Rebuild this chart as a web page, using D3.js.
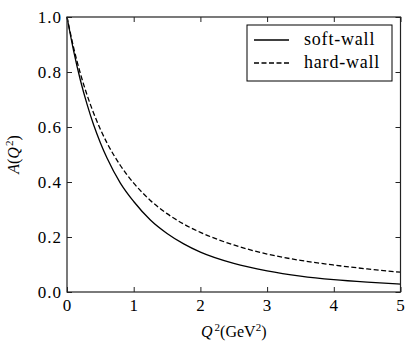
<!DOCTYPE html>
<html>
<head>
<meta charset="utf-8">
<script src="https://cdn.jsdelivr.net/npm/d3@7"></script>
<style>
  body { margin: 0; background: #fff; }
  svg { display: block; }
</style>
</head>
<body>
<svg></svg>
<script>
let width = 415, height = 349;

// Q^2 sample points (GeV^2) and read-off values of A(Q^2)
let q2 = [0, 0.1, 0.2, 0.3, 0.4, 0.5, 0.6, 0.8, 1.0, 1.25, 1.5, 1.75, 2.0, 2.5, 3.0, 3.5, 4.0, 4.5, 5.0];
let softWall = [1, 0.876, 0.771, 0.683, 0.607, 0.543, 0.487, 0.396, 0.329, 0.262, 0.213, 0.175, 0.145, 0.104, 0.077, 0.058, 0.045, 0.036, 0.029];
let hardWall = [1, 0.888, 0.795, 0.717, 0.650, 0.592, 0.542, 0.460, 0.396, 0.333, 0.285, 0.247, 0.217, 0.171, 0.138, 0.115, 0.098, 0.084, 0.072];

let xTicks = [0, 1, 2, 3, 4, 5];
let yTicks = [0, 0.2, 0.4, 0.6, 0.8, 1.0];

let series = [
  { name: "soft-wall", values: softWall, dash: null },
  { name: "hard-wall", values: hardWall, dash: "5,2.5" }
];

let margin = { left: 67, top: 17, right: 14.5, bottom: 57 };

let svg = d3.select("svg")
    .attr("width", width)
    .attr("height", height);

let x = d3.scaleLinear().domain([0, 5]).range([margin.left, width - margin.right]);
let y = d3.scaleLinear().domain([0, 1]).range([height - margin.bottom, margin.top]);

let font = "Liberation Serif";

// curves
let line = d3.line()
    .x((d, i) => x(q2[i]))
    .y(d => y(d))
    .curve(d3.curveMonotoneX);

svg.append("g")
  .selectAll("path")
  .data(series)
  .enter()
  .append("path")
    .attr("d", d => line(d.values))
    .attr("fill", "none")
    .attr("stroke", "black")
    .attr("stroke-width", 1.3)
    .attr("stroke-dasharray", d => d.dash);

// axes: ticks point inward, on all four sides
let tickLen = 5;
let axBottom = d3.axisBottom(x).tickValues(xTicks).tickSizeInner(-tickLen).tickSizeOuter(0).tickPadding(7).tickFormat(d3.format("d"));
let axTop = d3.axisTop(x).tickValues(xTicks).tickSizeInner(-tickLen).tickSizeOuter(0).tickFormat("");
let axLeft = d3.axisLeft(y).tickValues(yTicks).tickSizeInner(-tickLen).tickSizeOuter(0).tickPadding(5).tickFormat(d3.format(".1f"));
let axRight = d3.axisRight(y).tickValues(yTicks).tickSizeInner(-tickLen).tickSizeOuter(0).tickFormat("");

function styleAxis(g) {
  g.select(".domain").remove();
  g.selectAll("line").attr("stroke", "#222").attr("stroke-width", 1);
  g.selectAll("text").style("font-family", font).attr("font-size", 17)
    .attr("letter-spacing", 1).attr("fill", "black");
}

svg.append("g").attr("transform", `translate(0,${y(0)})`).call(axBottom).call(styleAxis);
svg.append("g").attr("transform", `translate(0,${y(1)})`).call(axTop).call(styleAxis);
svg.append("g").attr("transform", `translate(${x(0)},0)`).call(axLeft).call(styleAxis);
svg.append("g").attr("transform", `translate(${x(5)},0)`).call(axRight).call(styleAxis);

// frame
svg.append("rect")
    .attr("x", x(0)).attr("y", y(1))
    .attr("width", x(5) - x(0)).attr("height", y(0) - y(1))
    .attr("fill", "none")
    .attr("stroke", "#222")
    .attr("stroke-width", 1.2);

// axis labels
let xl = svg.append("text")
    .attr("x", (x(0) + x(5)) / 2)
    .attr("y", 337)
    .attr("text-anchor", "middle")
    .attr("font-family", font)
    .attr("font-size", 16);
xl.append("tspan").attr("font-style", "italic").text("Q");
xl.append("tspan").attr("dy", -6).attr("dx", 2).attr("font-size", 11).text("2");
xl.append("tspan").attr("dy", 6).text("(GeV");
xl.append("tspan").attr("dy", -6).attr("font-size", 11).text("2");
xl.append("tspan").attr("dy", 6).text(")");

let yl = svg.append("text")
    .attr("transform", `translate(19,${(y(0) + y(1)) / 2}) rotate(-90)`)
    .attr("text-anchor", "middle")
    .attr("font-family", font)
    .attr("font-size", 16);
yl.append("tspan").attr("font-style", "italic").text("A");
yl.append("tspan").text("(");
yl.append("tspan").attr("font-style", "italic").text("Q");
yl.append("tspan").attr("dy", -6).attr("dx", 1).attr("font-size", 11).text("2");
yl.append("tspan").attr("dy", 6).text(")");

// legend
let legend = svg.append("g").attr("transform", "translate(247,25)");
legend.append("rect")
    .attr("width", 145).attr("height", 56)
    .attr("fill", "white")
    .attr("stroke", "black")
    .attr("stroke-width", 1);

let item = legend.selectAll("g.item")
  .data(series)
  .enter()
  .append("g")
    .attr("class", "item")
    .attr("transform", (d, i) => `translate(0,${15 + i * 23})`);

item.append("line")
    .attr("x1", 7).attr("x2", 42)
    .attr("stroke", "black")
    .attr("stroke-width", 1.3)
    .attr("stroke-dasharray", d => d.dash);

item.append("text")
    .attr("x", 57).attr("y", 5)
    .style("font-family", font)
    .attr("font-size", 18)
    .attr("letter-spacing", 0.8)
    .text(d => d.name);
</script>
</body>
</html>
